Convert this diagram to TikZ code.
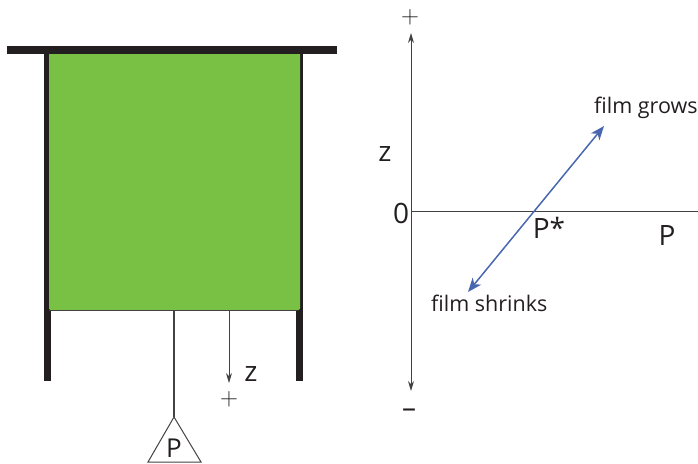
\documentclass[tikz,border=0pt]{standalone}
\usepackage{fontspec}
\setmainfont{Open Sans}
\usepackage{tikz}
\usetikzlibrary{positioning, arrows.meta, calc}
\definecolor{filmgreen}{RGB}{120,193,69}
\definecolor{barblack}{RGB}{35,31,32}
\definecolor{arrowblue}{RGB}{72,103,176}

\begin{document}
\begin{tikzpicture}[
    x=1pt, y=-1pt,
    every node/.style={inner sep=0pt, text=barblack},
    lbl/.style={font=\fontsize{28}{28}\selectfont},
    sign/.style={font=\fontsize{24}{24}\selectfont},
    small lbl/.style={font=\fontsize{21.5}{22}\selectfont},
    bar/.style={barblack, line width=7pt},
    thin line/.style={barblack!85, line width=1pt},
    axis/.style={thin line, -{Stealth[length=10pt, width=6pt]}},
    growth/.style={arrowblue, line width=1.5pt, {Stealth[length=14pt, width=11pt, inset=4pt]}-{Stealth[length=14pt, width=11pt, inset=4pt]}}
]
\useasboundingbox (0,0) rectangle (698,463);

% Frame and film
\coordinate (barL) at (7,49.5);
\coordinate (barR) at (337,49.5);
\coordinate (wallLtop) at (47.5,49.5);
\coordinate (wallLbot) at (47.5,381);
\coordinate (wallRtop) at (299.5,49.5);
\coordinate (wallRbot) at (299.5,381);
\draw[bar] (wallLtop) -- (wallLbot);
\draw[bar] (wallRtop) -- (wallRbot);
\fill[filmgreen, rounded corners=1.5pt] (49,53) rectangle (300,310);
\draw[barblack, line width=8pt] (barL) -- (barR);

% Bottom edge of the film, weight on its string
\coordinate (edgeL) at (49,310.5);
\coordinate (edgeR) at (297,310.5);
\coordinate (hang) at (174,310.5);
\coordinate (pull) at (229,310.5);
\coordinate (pullEnd) at (229,383);
\draw[thin line] (edgeL) -- (edgeR);
\coordinate (tipP) at (174,417);
\coordinate (baseL) at (148,462);
\coordinate (baseR) at (201,462);
\draw[thin line, line width=1.2pt] (hang) -- (tipP);
\draw[thin line] (tipP) -- (baseL) -- (baseR) -- cycle;
\node[lbl, font=\fontsize{26}{26}\selectfont] (weight) at (174,448) {P};
\draw[axis, line width=.8pt] (pull) -- (pullEnd);
\node[lbl] (zLeft) at (251,374) {z};
\node[sign] (plusLeft) at (229,399) {$+$};

% Axes of the plot
\coordinate (origin) at (411,211.5);
\coordinate (axisTop) at (411,33);
\coordinate (axisBot) at (411,391);
\coordinate (axisEnd) at (698,211.5);
\draw[axis] (origin) -- (axisTop);
\draw[axis] (origin) -- (axisBot);
\draw[thin line] (origin) -- (axisEnd);
\node[sign] (plusTop) at (410,17) {$+$};
\node[lbl] (minusBot) at (409,413) {–};
\node[lbl] (zAxis) at (385,154) {z};
\node[lbl] (zero) at (401,213) {0};
\node[lbl] (pStar) at (549,228) {P*};
\node[lbl] (pAxis) at (667,236) {P};

% Direction of the film
\coordinate (growEnd) at (604,126);
\coordinate (shrinkEnd) at (468,292);
\draw[growth] (shrinkEnd) -- (growEnd);
\node[small lbl, anchor=west] (grows) at (594,108) {film grows};
\node[small lbl, anchor=west] (shrinks) at (431,303) {film shrinks};

\end{tikzpicture}
\end{document}
